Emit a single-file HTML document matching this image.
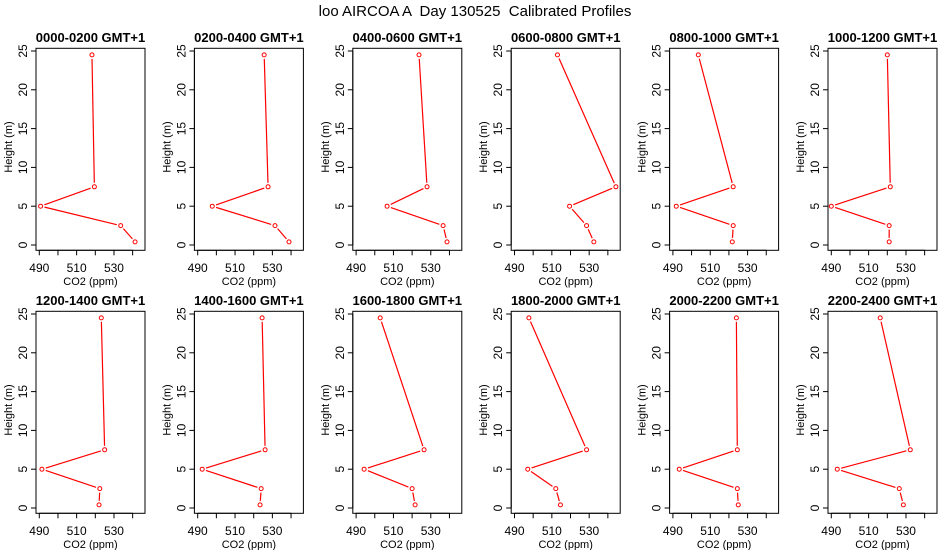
<!DOCTYPE html>
<html><head><meta charset="utf-8"><style>
body{margin:0;background:#fff}
svg{display:block;font-family:"Liberation Sans",sans-serif}
svg text{white-space:pre}
</style></head><body>
<svg id="c" width="950" height="550">
<text x="475" y="16" text-anchor="middle" font-size="15" xml:space="preserve">loo AIRCOA A  Day 130525  Calibrated Profiles</text>
</svg>
<script>
const titles=["0000-0200 GMT+1","0200-0400 GMT+1","0400-0600 GMT+1","0600-0800 GMT+1","0800-1000 GMT+1","1000-1200 GMT+1","1200-1400 GMT+1","1400-1600 GMT+1","1600-1800 GMT+1","1800-2000 GMT+1","2000-2200 GMT+1","2200-2400 GMT+1"];
const heights=[24.5,7.5,5,2.5,0.4];
const co2=[
[518.2,519.5,490.7,533.6,541.3],
[525.6,527.7,497.8,531.4,538.9],
[523.7,528.0,506.6,536.6,538.7],
[513.0,544.3,519.5,528.6,532.5],
[503.6,522.3,491.8,522.3,521.8],
[520.0,521.6,490.0,521.0,521.0],
[523.2,525.0,491.4,522.4,522.0],
[524.5,526.1,492.4,524.0,523.4],
[502.9,526.4,494.3,520.0,521.6],
[497.7,528.6,497.1,512.1,514.6],
[524.0,524.5,493.4,524.5,525.0],
[516.2,532.3,493.2,526.4,528.6]];
const xTicks=[490,500,510,520,530,540];
const xLabels=[490,510,530];
const yTicks=[0,5,10,15,20,25];
const svg=document.getElementById('c');
const NS='http://www.w3.org/2000/svg';
function mk(tag,attrs,parent){const e=document.createElementNS(NS,tag);for(const k in attrs)e.setAttribute(k,attrs[k]);(parent||svg).appendChild(e);return e;}
for(let p=0;p<12;p++){
  const col=p%6,row=Math.floor(p/6);
  const ox=158.4*col,oy=263*row;
  const sx=v=>ox+39.3+(v-490)*1.867;
  const sy=h=>oy+245-h*7.76;
  const g=mk('g',{});
  
  
  const bx=ox+36,by=oy+48.3;
  const box=mk('rect',{x:bx,y:by,width:109,height:202,fill:'none',stroke:'#000','stroke-width':1},g);
  
  
  const t=mk('text',{x:bx+54.5,y:oy+42,'text-anchor':'middle','font-size':13,'font-weight':'bold'},g);
  t.textContent=titles[p];
  
  
  const by2=oy+250.3;
  mk('line',{x1:sx(xTicks[0]),x2:sx(xTicks[xTicks.length-1]),y1:by2,y2:by2,stroke:'#000'},g);
  xTicks.forEach(v=>{mk('line',{x1:sx(v),x2:sx(v),y1:by2,y2:by2+5,stroke:'#000'},g);});
  xLabels.forEach(v=>{const l=mk('text',{x:sx(v),y:oy+272,'text-anchor':'middle','font-size':12},g);l.textContent=v;
    
    });
  const xt=mk('text',{x:bx+54.5,y:oy+285,'text-anchor':'middle','font-size':11},g);
  xt.textContent='CO2 (ppm)';
  
  
  mk('line',{x1:bx,x2:bx,y1:sy(0),y2:sy(25),stroke:'#000'},g);
  yTicks.forEach(v=>{mk('line',{x1:bx-5,x2:bx,y1:sy(v),y2:sy(v),stroke:'#000'},g);
    const l=mk('text',{x:0,y:0,'text-anchor':'middle','font-size':12,transform:`translate(${bx-9},${sy(v)}) rotate(-90)`},g);
    l.textContent=v;
    
    });
  const yt=mk('text',{x:0,y:0,'text-anchor':'middle','font-size':11,transform:`translate(${ox+12},${oy+147}) rotate(-90)`},g);
  yt.textContent='Height (m)';
  
  
  const d=co2[p];
  for(let i=0;i<d.length-1;i++){
    const x1=sx(d[i]),y1=sy(heights[i]),x2=sx(d[i+1]),y2=sy(heights[i+1]);
    const L=Math.hypot(x2-x1,y2-y1),gap=4;
    if(L>2*gap){const ux=(x2-x1)/L,uy=(y2-y1)/L;
      const s=mk('line',{x1:x1+ux*gap,y1:y1+uy*gap,x2:x2-ux*gap,y2:y2-uy*gap,stroke:'#f00','stroke-width':1.2},g);
      
      }
  }
  d.forEach((v,i)=>{const c=mk('circle',{cx:sx(v),cy:sy(heights[i]),r:2,fill:'none',stroke:'#f00','stroke-width':1},g);
    
    });
}
</script>
</body></html>
